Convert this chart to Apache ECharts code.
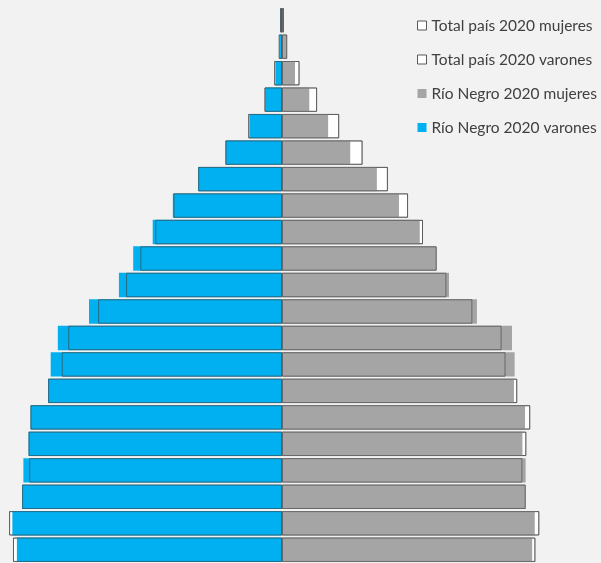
<!DOCTYPE html>
<html>
<head>
<meta charset="utf-8">
<script src="https://cdn.jsdelivr.net/npm/echarts@6/dist/echarts.min.js"></script>
<style>
html,body{margin:0;padding:0;background:#f2f2f2;}
#chart{width:601px;height:563px;}
</style>
</head>
<body>
<div id="chart"></div>
<script>
// Age groups, youngest first (bottom of pyramid)
const categories = ["0-4","5-9","10-14","15-19","20-24","25-29","30-34","35-39","40-44","45-49","50-54","55-59","60-64","65-69","70-74","75-79","80-84","85-89","90-94","95-99","100+"];
// Percent of population (males plotted to the left)
const totalMen   = [4.14,4.20,4.00,3.89,3.90,3.87,3.60,3.39,3.29,2.83,2.40,2.18,1.95,1.67,1.29,0.87,0.52,0.27,0.12,0.05,0.03];
const totalWomen = [3.90,3.96,3.75,3.70,3.76,3.82,3.62,3.44,3.38,2.93,2.53,2.38,2.17,1.94,1.63,1.24,0.88,0.54,0.27,0.08,0.03];
const rnMen      = [4.08,4.15,4.00,3.98,3.90,3.87,3.60,3.56,3.45,2.97,2.51,2.29,1.99,1.68,1.29,0.87,0.50,0.26,0.10,0.03,0.02];
const rnWomen    = [3.85,3.89,3.75,3.75,3.70,3.74,3.57,3.58,3.54,3.00,2.57,2.37,2.12,1.80,1.46,1.05,0.71,0.42,0.20,0.07,0.02];

const neg = a => a.map(v => -v);
const outline = 'rgba(64,64,64,0.6)';
const chart = echarts.init(document.getElementById('chart'));
chart.setOption({
  backgroundColor: '#f2f2f2',
  animation: false,
  legend: {
    orient: 'vertical',
    left: 412,
    top: 12,
    itemWidth: 9,
    itemHeight: 9,
    itemGap: 17,
    textStyle: { fontFamily: 'Lato', fontSize: 15.5, color: '#404040', lineHeight: 17 },
    data: [
      { name: 'Total país 2020 mujeres', icon: 'rect', itemStyle: { color: '#ffffff', borderColor: '#595959', borderWidth: 1 } },
      { name: 'Total país 2020 varones', icon: 'rect', itemStyle: { color: '#ffffff', borderColor: '#595959', borderWidth: 1 } },
      { name: 'Río Negro 2020 mujeres', icon: 'rect' },
      { name: 'Río Negro 2020 varones', icon: 'rect' }
    ]
  },
  grid: { left: 0, width: 564, top: 7, height: 562 },
  xAxis: { type: 'value', min: -4.34, max: 4.34, show: false },
  yAxis: { type: 'category', data: categories, show: false },
  series: [
    { name: 'Total país 2020 varones', type: 'bar', data: neg(totalMen), barGap: '-100%', barCategoryGap: '8%',
      itemStyle: { color: '#ffffff', borderColor: outline, borderWidth: 1 } },
    { name: 'Total país 2020 mujeres', type: 'bar', data: totalWomen,
      itemStyle: { color: '#ffffff', borderColor: outline, borderWidth: 1 } },
    { name: 'Río Negro 2020 varones', type: 'bar', data: neg(rnMen), itemStyle: { color: '#00b0f0' } },
    { name: 'Río Negro 2020 mujeres', type: 'bar', data: rnWomen, itemStyle: { color: '#a5a5a5' } },
    { name: 'outlineM', type: 'bar', data: neg(totalMen), silent: true,
      itemStyle: { color: 'rgba(0,0,0,0)', borderColor: outline, borderWidth: 1 } },
    { name: 'outlineF', type: 'bar', data: totalWomen, silent: true,
      itemStyle: { color: 'rgba(0,0,0,0)', borderColor: outline, borderWidth: 1 } }
  ]
});
</script>
</body>
</html>
